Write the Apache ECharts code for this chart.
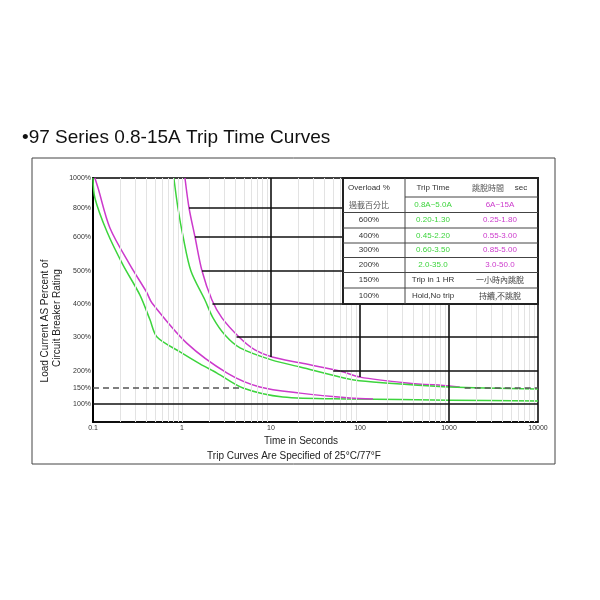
<!DOCTYPE html>
<html>
<head>
<meta charset="utf-8">
<title>97 Series 0.8-15A Trip Time Curves</title>
<script src="https://cdn.jsdelivr.net/npm/echarts@6/dist/echarts.min.js"></script>
<style>
html, body { margin: 0; padding: 0; background: #fff; }
#main { width: 600px; height: 600px; }
</style>
</head>
<body>
<div id="main"></div>
<script>
// 轴刻度
var yLabels = [100, 150, 200, 300, 400, 500, 600, 800, 1000];
var xLabels = [0.1, 1, 10, 100, 1000, 10000];

// 曲线：时间(秒) / 负载百分比
var greenLowT = [0.1, 0.105, 0.144, 0.217, 0.337, 0.437, 0.524, 0.95, 1.59, 2.47, 4.84, 13.6, 77, 1020, 10000];
var greenLowP = [1000, 867, 634, 518, 427, 352, 300, 256, 221, 194, 150, 122, 116, 112, 109];

var magentaLowT = [0.105, 0.114, 0.155, 0.26, 0.40, 0.46, 1.13, 3.22, 7.5, 21.2, 77, 140];
var magentaLowP = [1000, 933, 662, 518, 436, 403, 282, 194, 153, 134, 119, 116];

var greenHighT = [0.81, 0.90, 1.03, 1.26, 1.81, 2.23, 3.04, 4.49, 10.3, 21.2, 77, 140, 1020, 10000];
var greenHighP = [1000, 800, 600, 500, 412, 358, 306, 268, 232, 212, 176, 168, 153, 147];

var magentaHighT = [1.08, 1.20, 1.40, 1.68, 2.17, 2.81, 4.49, 6.6, 10.3, 21.2, 59.6, 100, 337, 1020, 1320];
var magentaHighP = [1000, 800, 600, 500, 412, 358, 297, 262, 241, 224, 200, 182, 165, 156, 153];

// 粗黑线：水平线(百分比、起点时间)，竖线(时间、下端百分比)
var hLineP = [800, 600, 500, 400, 300, 200];
var hLineT = [1.2, 1.4, 1.68, 2.2, 4.1, 50];
var vLineT = [10, 100];
var vLineP = [241, 182];

// 150% 虚线的两段(起止时间)
var dashFrom = [0.1, 1500];
var dashTo = [4.8, 10000];

// 表格文字
var tableCol1 = ["Overload %", "過載百分比", "600%", "400%", "300%", "200%", "150%", "100%"];
var tableCol2 = ["Trip Time", "0.8A~5.0A", "0.20-1.30", "0.45-2.20", "0.60-3.50", "2.0-35.0", "Trip in 1 HR", "Hold,No trip"];
var tableCol3 = ["跳脫時間", "6A~15A", "0.25-1.80", "0.55-3.00", "0.85-5.00", "3.0-50.0", "一小時內跳脫", "持續,不跳脫"];

// 纵轴是分段刻度：每个刻度在轴上的位置（距底边像素）
var yStops = [18, 34, 51, 85, 118, 151, 185, 214, 244];

var GREEN = "#3dd43d";
var MAGENTA = "#cc3acc";
var FONT = "'Liberation Sans', Arial, sans-serif";
var CJK = "'Noto Sans CJK TC', 'Liberation Sans', sans-serif";

function yMap(p) {
    var i = 0;
    while (i < yLabels.length - 2 && p > yLabels[i + 1]) i++;
    var r = (p - yLabels[i]) / (yLabels[i + 1] - yLabels[i]);
    return yStops[i] + r * (yStops[i + 1] - yStops[i]);
}

function toPts(ts, ps) {
    return ts.map(function(t, i) { return [t, yMap(ps[i])]; });
}

// 细灰色对数网格
var minorLines = [];
for (var e = -1; e < 4; e++) {
    for (var k = 1; k <= 9; k++) {
        if (k == 1 && e != 0) continue;
        minorLines.push({ xAxis: k * Math.pow(10, e) });
    }
}

// 黑色粗线
var blackLines = [];
hLineP.forEach(function(p, i) {
    blackLines.push([{ coord: [hLineT[i], yMap(p)] }, { coord: [10000, yMap(p)] }]);
});
vLineT.forEach(function(t, i) {
    blackLines.push([{ coord: [t, yMap(1000)] }, { coord: [t, yMap(vLineP[i])] }]);
});
blackLines.push([{ coord: [0.1, yMap(100)] }, { coord: [10000, yMap(100)] }]);
blackLines.push([{ coord: [1000, 0] }, { coord: [1000, 244] }]);

var dashLines = dashFrom.map(function(t, i) {
    return [{ coord: [t, yMap(150)] }, { coord: [dashTo[i], yMap(150)] }];
});

function mlSeries(data, style) {
    return {
        type: "line",
        data: [],
        silent: true,
        markLine: {
            silent: true,
            symbol: "none",
            label: { show: false },
            lineStyle: style,
            emphasis: { disabled: true },
            data: data
        }
    };
}

function curve(ts, ps, color) {
    return {
        type: "line",
        data: toPts(ts, ps),
        showSymbol: false,
        smooth: 0.3,
        lineStyle: { color: color, width: 1.5 },
        silent: true
    };
}

// 表格（图形元素，盖在网格线上面）
var tx0 = 343, tx1 = 405, tx2 = 538;
var rows = [178, 197, 212.5, 228, 243, 257.5, 272.5, 288, 304];
var tableEls = [];
tableEls.push({
    type: "rect", z: 100,
    shape: { x: tx0, y: rows[0], width: tx2 - tx0, height: rows[8] - rows[0] },
    style: { fill: "#fff", stroke: "#222", lineWidth: 2 }
});
for (var r = 1; r < 8; r++) {
    tableEls.push({
        type: "line", z: 101,
        shape: { x1: r == 1 ? tx1 : tx0, y1: rows[r], x2: tx2, y2: rows[r] },
        style: { stroke: "#444", lineWidth: 1 }
    });
}
tableEls.push({
    type: "line", z: 101,
    shape: { x1: tx1, y1: rows[0], x2: tx1, y2: rows[8] },
    style: { stroke: "#444", lineWidth: 1 }
});
function cell(x, r, text, color, font) {
    tableEls.push({
        type: "text", z: 102,
        x: x,
        y: (rows[r] + rows[r + 1]) / 2,
        style: {
            text: text, fill: color, fontSize: 8, fontFamily: font || FONT,
            align: "center", verticalAlign: "middle"
        }
    });
}
tableCol1.forEach(function(s, r) {
    cell(369, r, s, r == 1 ? "#555" : "#333", r == 1 ? CJK : FONT);
});
tableCol2.forEach(function(s, r) {
    cell(433, r, s, (r >= 1 && r <= 5) ? GREEN : "#333");
});
tableCol3.forEach(function(s, r) {
    if (r == 0) {
        cell(488, r, s, "#555", CJK);
        cell(521, r, "sec", "#333");
        return;
    }
    cell(500, r, s, (r >= 1 && r <= 5) ? MAGENTA : "#444", r >= 6 ? CJK : FONT);
});

var myChart = echarts.init(document.getElementById("main"), null, { renderer: "canvas" });
var option = {
    animation: false,
    backgroundColor: "#fff",
    grid: {
        left: 93, right: 62, top: 178, bottom: 178,
        show: true, borderColor: "#000", borderWidth: 1.5
    },
    xAxis: {
        type: "log",
        logBase: 10,
        min: xLabels[0],
        max: xLabels[xLabels.length - 1],
        axisLine: { lineStyle: { color: "#000", width: 1.5 } },
        axisTick: { show: false },
        splitLine: { show: false },
        axisLabel: {
            fontSize: 7, color: "#333", margin: 3, fontFamily: FONT,
            showMinLabel: true, showMaxLabel: true,
            formatter: function(v) { return String(Math.round(v * 10) / 10); }
        }
    },
    yAxis: {
        type: "value",
        min: 0,
        max: 244,
        axisLine: { show: true, lineStyle: { color: "#000", width: 2 } },
        axisTick: { show: false },
        splitLine: { show: false },
        axisLabel: {
            fontSize: 7, color: "#333", margin: 2, fontFamily: FONT,
            customValues: yLabels.map(yMap),
            formatter: function(v) {
                for (var i = 0; i < yLabels.length; i++) {
                    if (Math.abs(yMap(yLabels[i]) - v) < 0.01) return yLabels[i] + "%";
                }
                return "";
            }
        }
    },
    series: [
        mlSeries(minorLines, { color: "#e3e3e3", width: 1, type: "solid" }),
        mlSeries(blackLines, { color: "#111", width: 1.6, type: "solid" }),
        mlSeries(dashLines, { color: "#555", width: 1.5, type: [6, 4] }),
        curve(greenLowT, greenLowP, GREEN),
        curve(magentaLowT, magentaLowP, MAGENTA),
        curve(magentaHighT, magentaHighP, MAGENTA),
        curve(greenHighT, greenHighP, GREEN)
    ],
    graphic: [
        {
            type: "rect", z: 100, silent: true,
            shape: { x: 32, y: 158, width: 523, height: 306 },
            style: { fill: "none", stroke: "#444", lineWidth: 1 }
        },
        {
            type: "text", z: 100, x: 22, y: 138,
            style: { text: "•97 Series 0.8-15A Trip Time Curves", fontSize: 19, fontFamily: FONT, fill: "#111", verticalAlign: "middle" }
        },
        {
            type: "text", z: 100, x: 45, y: 321, rotation: Math.PI / 2,
            style: { text: "Load Current AS Percent of", fontSize: 10, fontFamily: FONT, fill: "#222", align: "center", verticalAlign: "middle" }
        },
        {
            type: "text", z: 100, x: 57, y: 318, rotation: Math.PI / 2,
            style: { text: "Circuit Breaker Rating", fontSize: 10, fontFamily: FONT, fill: "#222", align: "center", verticalAlign: "middle" }
        },
        {
            type: "text", z: 100, x: 301, y: 441,
            style: { text: "Time in Seconds", fontSize: 10, fontFamily: FONT, fill: "#222", align: "center", verticalAlign: "middle" }
        },
        {
            type: "text", z: 100, x: 294, y: 456,
            style: { text: "Trip Curves Are Specified of 25°C/77°F", fontSize: 10, fontFamily: FONT, fill: "#222", align: "center", verticalAlign: "middle" }
        },
        {
            type: "group", silent: true,
            children: tableEls
        }
    ]
};
myChart.setOption(option);
</script>
</body>
</html>
